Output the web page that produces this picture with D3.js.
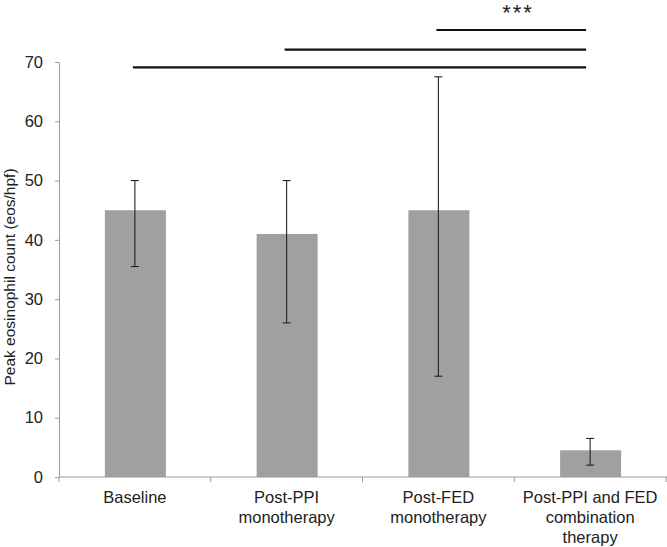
<!DOCTYPE html>
<html>
<head>
<meta charset="utf-8">
<script src="https://cdn.jsdelivr.net/npm/d3@7"></script>
<style>
  body { margin: 0; background: #fff; }
  text { font-family: "Liberation Sans", Arial, sans-serif; }
</style>
</head>
<body>
<div id="app"></div>
<script>
// chart values
const categories = ['Baseline', 'Post-PPI monotherapy', 'Post-FED monotherapy', 'Post-PPI and FED combination therapy'];
const labelLines = [['Baseline'], ['Post-PPI', 'monotherapy'], ['Post-FED', 'monotherapy'], ['Post-PPI and FED', 'combination', 'therapy']];
const means = [45, 41, 45, 4.5];
const errLow = [35.5, 26, 17, 2];
const errHigh = [50, 50, 67.5, 6.5];
const yTicks = [0, 10, 20, 30, 40, 50, 60, 70];
// significance brackets: from category index -> to category index, at value
const sigFrom = [0, 1, 2];
const sigTo = [3, 3, 3];
const sigLevel = [69.1, 72.1, 75.4];
const sigLabel = '***';

(() => {
  const WIDTH = 667, HEIGHT = 547;
  const margin = { left: 59, right: 1 };

  const svg = d3.select('#app').append('svg')
    .attr('width', WIDTH).attr('height', HEIGHT);

  const xb = d3.scaleBand().domain(categories).range([margin.left, WIDTH - margin.right]);
  const cx = d => xb(d) + xb.bandwidth() / 2;

  const y = d3.scaleLinear()
    .domain([0, 70])
    .range([477, 62]);

  // bars
  svg.append('g')
    .selectAll('rect')
    .data(categories)
    .join('rect')
    .attr('x', d => cx(d) - 30)
    .attr('width', 61)
    .attr('y', (d, i) => y(means[i]))
    .attr('height', (d, i) => y(0) - y(means[i]))
    .attr('fill', '#a0a0a0');

  // error bars
  const eb = svg.append('g').attr('stroke', '#222').attr('stroke-width', 1.1);
  categories.forEach((c, i) => {
    const x0 = cx(c);
    eb.append('line').attr('x1', x0).attr('x2', x0).attr('y1', y(errLow[i])).attr('y2', y(errHigh[i]));
    eb.append('line').attr('x1', x0 - 4).attr('x2', x0 + 4).attr('y1', y(errLow[i])).attr('y2', y(errLow[i]));
    eb.append('line').attr('x1', x0 - 4).attr('x2', x0 + 4).attr('y1', y(errHigh[i])).attr('y2', y(errHigh[i]));
  });

  // y axis
  const yAxis = svg.append('g')
    .attr('transform', `translate(${margin.left},0)`)
    .call(d3.axisLeft(y).tickValues(yTicks).tickSize(4).tickSizeOuter(0));
  yAxis.select('.domain').attr('stroke', '#9a9a9a');
  yAxis.selectAll('.tick line').attr('stroke', '#9a9a9a');
  yAxis.selectAll('.tick text').attr('font-size', 16.5).attr('fill', '#222').attr('x', -16);

  // x axis
  const xAxisG = svg.append('g').attr('transform', `translate(0,${y(0)})`);
  xAxisG.append('line')
    .attr('x1', margin.left).attr('x2', WIDTH)
    .attr('stroke', '#9a9a9a');
  xAxisG.selectAll('line.tk')
    .data([margin.left].concat(categories.map(d => xb(d) + xb.bandwidth())))
    .join('line')
    .attr('class', 'tk')
    .attr('x1', d => d).attr('x2', d => d)
    .attr('y1', 0).attr('y2', 5)
    .attr('stroke', '#9a9a9a');
  xAxisG.selectAll('text')
    .data(categories)
    .join('text')
    .attr('text-anchor', 'middle')
    .attr('font-size', 16.5)
    .attr('fill', '#222')
    .attr('x', d => cx(d))
    .attr('y', 26)
    .selectAll('tspan')
    .data((d, i) => labelLines[i])
    .join('tspan')
    .attr('x', function () { return this.parentNode.getAttribute('x'); })
    .attr('dy', (d, j) => j === 0 ? 0 : 20)
    .text(d => d);

  // y label
  svg.append('text')
    .attr('transform', `translate(15,277) rotate(-90)`)
    .attr('text-anchor', 'middle')
    .attr('font-size', 15.5)
    .attr('fill', '#222')
    .text('Peak eosinophil count (eos/hpf)');

  // significance lines
  svg.append('g')
    .selectAll('line')
    .data(sigLevel)
    .join('line')
    .attr('x1', (d, i) => cx(categories[sigFrom[i]]) - 2)
    .attr('x2', (d, i) => cx(categories[sigTo[i]]) - 4)
    .attr('y1', d => y(d)).attr('y2', d => y(d))
    .attr('stroke', '#111').attr('stroke-width', 2.2);

  svg.append('text')
    .attr('x', 518).attr('y', 20)
    .attr('text-anchor', 'middle')
    .attr('font-size', 22)
    .attr('letter-spacing', 2)
    .attr('fill', '#222')
    .text(sigLabel);
})();
</script>
</body>
</html>
